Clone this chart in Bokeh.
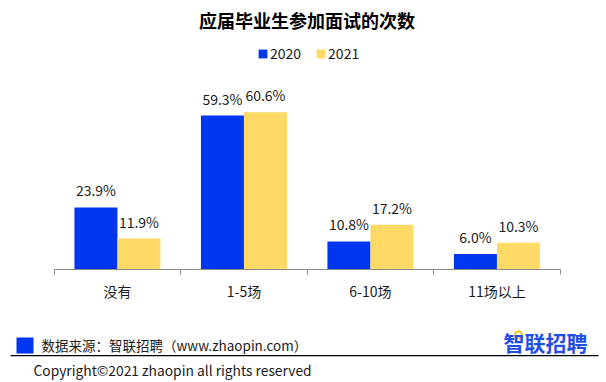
from bokeh.plotting import figure
from bokeh.layouts import column
from bokeh.models import (Range1d, FixedTicker, Label, BoxAnnotation, Legend,
                          LegendItem)
from bokeh.embed import file_html
from bokeh.resources import INLINE
from bokeh.core.properties import value

# ---- data ----
chart_title = "应届毕业生参加面试的次数"
categories = ["没有", "1-5场", "6-10场", "11场以上"]
years = ["2020", "2021"]
values_2020 = [23.9, 59.3, 10.8, 6.0]
values_2021 = [11.9, 60.6, 17.2, 10.3]
source_text = "数据来源：智联招聘（www.zhaopin.com）"
brand_text = "智联招聘"
copyright_text = "Copyright©2021 zhaopin all rights reserved"

FONT = "Noto Sans CJK SC"
BLUE = "#0037EE"
YELLOW = "#FFD966"
TXT = "#1a1a1a"

W = 606
H1 = 310          # main chart part
H2 = 72           # footer part
B = 41
FRAME_H = H1 - B  # frame from top of canvas to the axis line
Y_MAX = 103.6     # value range shown over the frame height
X_START, X_END = -0.4245, 4.366   # category units across the full width

p = figure(width=W, height=H1, output_backend="svg", toolbar_location=None,
           title=None, y_axis_type=None,
           x_range=Range1d(X_START, X_END), y_range=Range1d(0, Y_MAX),
           min_border_left=0, min_border_right=0, min_border_top=0,
           min_border_bottom=B)
p.outline_line_color = None
p.xgrid.visible = False
p.background_fill_color = "white"
p.border_fill_color = "white"

centers = [i + 0.5 for i in range(len(categories))]
x20 = [c - 0.17 for c in centers]
x21 = [c + 0.17 for c in centers]

r20 = p.vbar(x=x20, top=values_2020, width=0.34, fill_color=BLUE, line_color=None)
r21 = p.vbar(x=x21, top=values_2021, width=0.34, fill_color=YELLOW, line_color=None)

for xs, vals in ((x20, values_2020), (x21, values_2021)):
    p.text(x=xs, y=vals, text=[f"{v:.1f}%" for v in vals], text_align="center",
           text_baseline="middle", y_offset=-17, text_font=value(FONT),
           text_font_size="14px", text_color=TXT)

ax = p.xaxis[0]
ax.bounds = (0, len(categories))
ax.ticker = FixedTicker(ticks=centers, minor_ticks=list(range(len(categories) + 1)))
ax.major_label_overrides = {c: cat for c, cat in zip(centers, categories)}
ax.major_tick_line_color = None
ax.major_tick_out = 0
ax.major_tick_in = 0
ax.minor_tick_out = 5
ax.minor_tick_in = 0
ax.minor_tick_line_color = "#8c8c8c"
ax.axis_line_color = "#8c8c8c"
ax.axis_line_width = 1.2
ax.major_label_standoff = 6
ax.major_label_text_font = FONT
ax.major_label_text_font_size = "14px"
ax.major_label_text_color = TXT


def fy(Y):
    return FRAME_H - Y


legend = Legend(items=[LegendItem(label=years[0], renderers=[r20]),
                       LegendItem(label=years[1], renderers=[r21])],
                orientation="horizontal", location=(257, fy(63)),
                glyph_width=11, glyph_height=11, label_standoff=2, spacing=14,
                padding=0, margin=0, border_line_color=None,
                background_fill_alpha=0, label_text_font=FONT,
                label_text_font_size="14px", label_height=16,
                label_text_color=TXT)
p.add_layout(legend)

p.add_layout(Label(x=306.5, y=fy(19), x_units="screen", y_units="screen",
                   text=chart_title, text_align="center", text_baseline="middle",
                   text_font=FONT, text_font_size="18px", text_font_style="bold",
                   text_color="#000000"))

# ---- footer ----
f = figure(width=W, height=H2, output_backend="svg", toolbar_location=None,
           title=None, x_axis_type=None, y_axis_type=None,
           x_range=Range1d(0, W), y_range=Range1d(H1 + H2, H1),
           min_border=0)
f.outline_line_color = None
f.background_fill_color = "white"
f.border_fill_color = "white"

f.add_layout(BoxAnnotation(left=16, right=33, top=337, bottom=353,
                           fill_color=BLUE, fill_alpha=1, line_color=None))
f.add_layout(BoxAnnotation(left=10, right=598, top=354.4, bottom=355.8,
                           fill_color="#000000", fill_alpha=1, line_color=None))
f.add_layout(Label(x=41, y=344, text=source_text, text_align="left",
                   text_baseline="middle", text_font=FONT, text_font_size="13.5px",
                   text_color=TXT))
f.add_layout(Label(x=545, y=341, text=brand_text, text_align="center",
                   text_baseline="middle", text_font=FONT, text_font_size="21px",
                   text_font_style="bold", text_color="#1F4FE6"))
f.scatter(x=[518], y=[334.5], marker="circle", size=7, fill_color="white",
          line_color="#F7C51E", line_width=2)
f.add_layout(Label(x=33, y=369, text=copyright_text, text_align="left",
                   text_baseline="middle", text_font=FONT, text_font_size="13.8px",
                   text_color=TXT))

layout = column(p, f, spacing=0)
open("out.html", "w").write(file_html(layout, INLINE))
